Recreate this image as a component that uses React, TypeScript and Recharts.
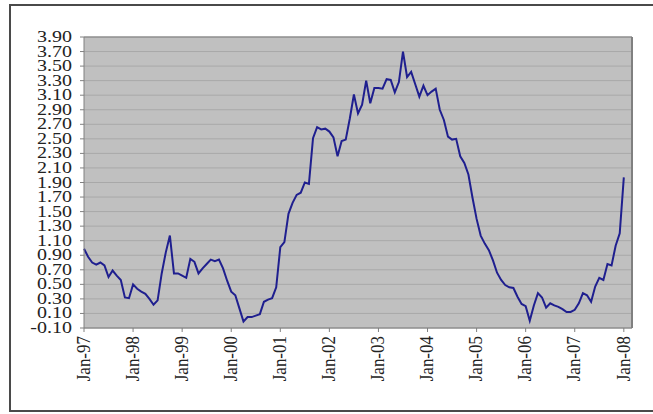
import React from 'react';
import {
  LineChart,
  Line,
  XAxis,
  YAxis,
  CartesianGrid,
  ReferenceLine,
} from 'recharts';

// monthly values, Jan..Dec
const y1997 = [0.99, 0.88, 0.8, 0.77, 0.8, 0.76, 0.6, 0.69, 0.62, 0.56, 0.32, 0.31];
const y1998 = [0.5, 0.44, 0.4, 0.37, 0.3, 0.22, 0.28, 0.65, 0.94, 1.17, 0.65, 0.65];
const y1999 = [0.62, 0.59, 0.85, 0.81, 0.65, 0.72, 0.78, 0.84, 0.82, 0.84, 0.72, 0.55];
const y2000 = [0.4, 0.35, 0.17, -0.01, 0.05, 0.05, 0.07, 0.09, 0.26, 0.29, 0.31, 0.46];
const y2001 = [1.01, 1.08, 1.47, 1.62, 1.73, 1.76, 1.9, 1.88, 2.51, 2.66, 2.63, 2.64];
const y2002 = [2.6, 2.52, 2.26, 2.47, 2.49, 2.78, 3.11, 2.85, 2.97, 3.3, 2.99, 3.2];
const y2003 = [3.2, 3.19, 3.32, 3.31, 3.14, 3.28, 3.7, 3.35, 3.42, 3.25, 3.08, 3.23];
const y2004 = [3.1, 3.15, 3.19, 2.9, 2.76, 2.53, 2.49, 2.5, 2.26, 2.17, 2.01, 1.69];
const y2005 = [1.4, 1.17, 1.06, 0.97, 0.83, 0.66, 0.56, 0.49, 0.46, 0.45, 0.33, 0.23];
const y2006 = [0.2, 0.0, 0.21, 0.38, 0.32, 0.18, 0.24, 0.21, 0.19, 0.16, 0.12, 0.12];
const y2007 = [0.15, 0.24, 0.38, 0.35, 0.26, 0.47, 0.59, 0.56, 0.78, 0.76, 1.03, 1.2];
const y2008 = [1.97];

const xTickLabels = [
  'Jan-97', 'Jan-98', 'Jan-99', 'Jan-00', 'Jan-01', 'Jan-02',
  'Jan-03', 'Jan-04', 'Jan-05', 'Jan-06', 'Jan-07', 'Jan-08',
];
const yTicks = [
  -0.1, 0.1, 0.3, 0.5, 0.7, 0.9, 1.1, 1.3, 1.5, 1.7, 1.9,
  2.1, 2.3, 2.5, 2.7, 2.9, 3.1, 3.3, 3.5, 3.7, 3.9,
];

const values = [
  ...y1997, ...y1998, ...y1999, ...y2000, ...y2001, ...y2002,
  ...y2003, ...y2004, ...y2005, ...y2006, ...y2007, ...y2008,
];
const data = values.map((v, i) => ({ m: i, value: v }));
const xTicks = xTickLabels.map((_, i) => i * 12);

const FONT = "'Liberation Serif', 'Times New Roman', serif";
const axisColor = '#808080';

const YTick = ({ x, y, payload }: any) => (
  <g transform={`translate(${x},${y})`}>
    <text
      x={0}
      y={0}
      dy={5}
      textAnchor="end"
      style={{ fontFamily: FONT, fontSize: 16 }}
      fill="#222"
      transform="scale(1.25,1)"
    >
      {Number(payload.value).toFixed(2)}
    </text>
  </g>
);

const XTick = ({ x, y, payload }: any) => (
  <g transform={`translate(${x},${y})`}>
    <text
      x={0}
      y={0}
      dy={5}
      textAnchor="end"
      style={{ fontFamily: FONT, fontSize: 17 }}
      fill="#222"
      transform="rotate(-90) scale(1,1.15)"
    >
      {xTickLabels[Math.round(payload.value / 12)]}
    </text>
  </g>
);

const App: React.FC = () => {
  return (
    <div style={{ position: 'fixed', left: 0, top: 0, width: 653, height: 414, background: '#fff', overflow: 'hidden' }}>
      <div
        style={{
          position: 'absolute',
          left: 9,
          top: 4,
          width: 660,
          height: 404,
          border: '2px solid #4a4a4a',
        }}
      />
      <div style={{ position: 'absolute', left: 0, top: 0 }}>
        <LineChart width={653} height={414} data={data} margin={{ top: 37, right: 21, left: 0, bottom: 0 }}>
          <CartesianGrid vertical={false} stroke="#a8a8a8" fill="#c0c0c0" />
          <XAxis
            dataKey="m"
            type="number"
            domain={[0, 134]}
            ticks={xTicks}
            interval={0}
            height={86}
            tickSize={4}
            tickMargin={4}
            stroke={axisColor}
            tick={<XTick />}
          />
          <YAxis
            type="number"
            domain={[-0.1, 3.9]}
            ticks={yTicks}
            interval={0}
            width={84}
            tickSize={4}
            tickMargin={8}
            stroke={axisColor}
            tick={<YTick />}
          />
          <ReferenceLine x={134} stroke="#808080" strokeWidth={2} />
          <ReferenceLine y={3.9} stroke="#808080" />
          <Line
            type="linear"
            dataKey="value"
            stroke="#1f1f8f"
            strokeWidth={2}
            dot={false}
            isAnimationActive={false}
          />
        </LineChart>
      </div>
    </div>
  );
};

export default App;
